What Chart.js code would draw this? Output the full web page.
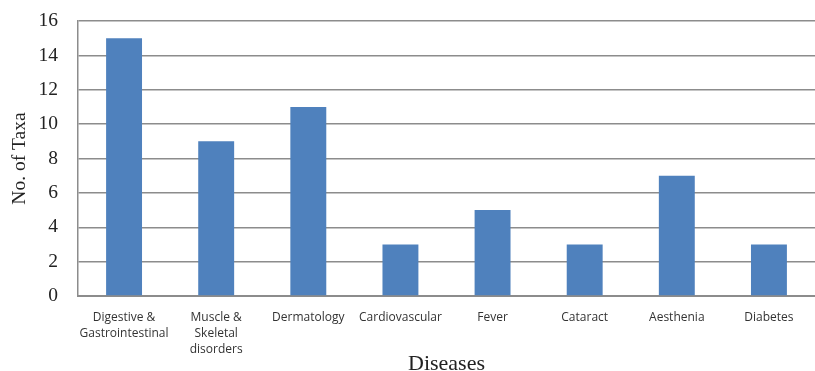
<!DOCTYPE html>
<html>
<head>
<meta charset="utf-8">
<script src="https://cdn.jsdelivr.net/npm/chart.js@4"></script>
<style>
  html, body { margin: 0; padding: 0; background: #fff; }
  #wrap { width: 815px; height: 371px; }
</style>
</head>
<body>
<div id="wrap"><canvas id="GraficoTaxa"></canvas></div>
<script>
'use strict'

const categories = [
  ['Digestive &', 'Gastrointestinal'],
  ['Muscle &', 'Skeletal', 'disorders'],
  'Dermatology',
  'Cardiovascular',
  'Fever',
  'Cataract',
  'Aesthenia',
  'Diabetes'
];
const taxaCount = [15, 9, 11, 3, 5, 3, 7, 3];
const yTicks = [0, 2, 4, 6, 8, 10, 12, 14, 16];

const canvas = document.querySelector('#GraficoTaxa');

const data = {
  labels: categories,
  datasets: [{
    label: 'No. of Taxa',
    data: taxaCount,
    backgroundColor: '#4F81BD',
    borderWidth: 0,
    barPercentage: 0.39,
    categoryPercentage: 1
  }]
};

// config
const config = {
  type: 'bar',
  data,
  options: {
    responsive: false,
    animation: false,
    layout: { padding: { top: 21, right: 0, left: 0, bottom: 0 } },
    plugins: {
      legend: { display: false },
      tooltip: { enabled: false }
    },
    scales: {
      x: {
        grid: { display: false, drawTicks: false },
        border: { color: '#8c8c8c', width: 2 },
        ticks: {
          color: '#333',
          font: { family: 'Open Sans', size: 12, lineHeight: 1.35 },
          padding: 13,
          maxRotation: 0,
          autoSkip: false
        },
        title: {
          display: true,
          text: 'Diseases',
          color: '#222',
          font: { family: 'Liberation Serif', size: 22, lineHeight: 1 },
          padding: { top: 0, bottom: -4 }
        },
        afterFit: (scale) => {
          scale.height = 75;
          scale.paddingTop = 0;
          scale.paddingBottom = 0;
        }
      },
      y: {
        min: 0,
        max: 16,
        afterBuildTicks: (scale) => { scale.ticks = yTicks.map(v => ({ value: v })); },
        grid: { color: '#8c8c8c', lineWidth: 1.5, drawTicks: false },
        border: { color: '#8c8c8c', width: 1.5 },
        ticks: {
          color: '#222',
          font: { family: 'Liberation Serif', size: 19.5 },
          padding: 20
        },
        title: {
          display: true,
          text: 'No. of Taxa',
          color: '#222',
          font: { family: 'Liberation Serif', size: 19.5, lineHeight: 1 },
          padding: { top: 10, bottom: 0 }
        },
        afterFit: (scale) => {
          scale.width = 78;
          scale.paddingTop = 0;
          scale.paddingBottom = 0;
        }
      }
    }
  }
};

canvas.width = 815;
canvas.height = 371;
const GraficoTaxa = new Chart(canvas, config);
</script>
</body>
</html>
